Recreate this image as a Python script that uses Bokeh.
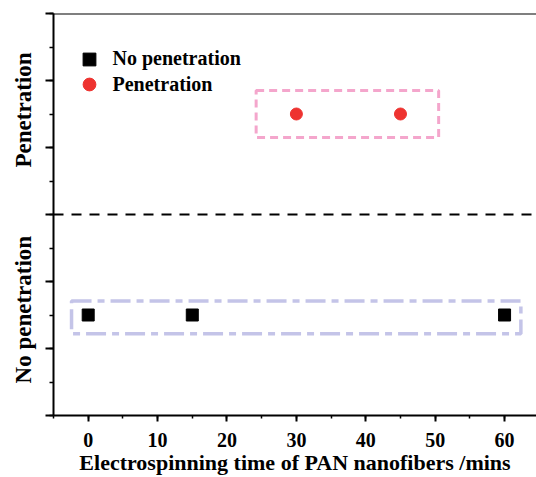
import math
from bokeh.plotting import figure
from bokeh.models import (LinearAxis, FixedTicker, SingleIntervalTicker, Span,
                          Legend, LegendItem, Range1d)
from bokeh.embed import file_html
from bokeh.resources import INLINE

# ---- data ----
no_pen_x = [0, 15, 60]
no_pen_y = [1.5, 1.5, 1.5]
pen_x = [30, 45]
pen_y = [4.5, 4.5]

# highlight boxes (data units)
pen_box_left, pen_box_right, pen_box_bottom, pen_box_top = [24.2], [50.5], [4.15], [4.85]
nop_box_left, nop_box_right, nop_box_bottom, nop_box_top = [-2.4], [62.35], [1.22], [1.71]

divider_y = 3
y_top = 6
y_group_ticks = [1.58, 4.56]
y_group_labels = ["No penetration", "Penetration"]
x_title = "Electrospinning time of PAN nanofibers /mins"

FONT = "Liberation Serif"

p = figure(width=536, height=477, x_range=Range1d(-5, 64.6), y_range=Range1d(0, y_top),
           output_backend="svg", toolbar_location=None,
           min_border_left=53, min_border_right=0, min_border_top=13, min_border_bottom=0)
p.outline_line_color = None
p.grid.visible = False
p.background_fill_color = "white"

# x axis
xa = p.xaxis[0]
xa.ticker = SingleIntervalTicker(interval=10, num_minor_ticks=2)
xa.major_tick_out = 6
xa.major_tick_in = 0
xa.minor_tick_out = 3
xa.minor_tick_in = 0
xa.axis_line_width = 2
xa.major_tick_line_width = 2
xa.minor_tick_line_width = 1.5
xa.major_label_text_font = FONT
xa.major_label_text_font_style = "bold"
xa.major_label_text_font_size = "20px"
xa.major_label_text_color = "black"
xa.major_label_standoff = 11
xa.axis_label = x_title
xa.axis_label_text_font = FONT
xa.axis_label_text_font_style = "bold"
xa.axis_label_text_font_size = "22px"
xa.axis_label_text_color = "black"
xa.axis_label_standoff = 0

# main y axis (ticks only)
ya = p.yaxis[0]
ya.ticker = SingleIntervalTicker(interval=1, num_minor_ticks=2)
ya.major_tick_out = 8
ya.major_tick_in = 0
ya.minor_tick_out = 4
ya.minor_tick_in = 0
ya.axis_line_width = 2
ya.major_tick_line_width = 2
ya.minor_tick_line_width = 1.5
ya.major_label_text_font_size = "0px"
ya.major_label_standoff = 0

# group label axis
ga = LinearAxis(ticker=FixedTicker(ticks=y_group_ticks, minor_ticks=[]),
                major_label_overrides={t: s for t, s in zip(y_group_ticks, y_group_labels)},
                major_label_orientation="parallel",
                axis_line_color=None, major_tick_line_color=None, minor_tick_line_color=None,
                major_tick_out=0, major_tick_in=0, minor_tick_out=0, minor_tick_in=0,
                major_label_text_font=FONT, major_label_text_font_style="bold",
                major_label_text_font_size="23px", major_label_text_color="black",
                major_label_standoff=9)
p.add_layout(ga, "left")

# top border
p.add_layout(Span(location=y_top, dimension="width", line_color="black", line_width=2))

# divider
p.add_layout(Span(location=divider_y, dimension="width", line_color="black",
                  line_width=2, line_dash="10 8"))

# boxes
p.quad(left=pen_box_left, right=pen_box_right, bottom=pen_box_bottom, top=pen_box_top,
       fill_color=None, line_color="#f4a6cc", line_width=3, line_dash="8 5")
p.quad(left=nop_box_left, right=nop_box_right, bottom=nop_box_bottom, top=nop_box_top,
       fill_color=None, line_color="#c4c4e8", line_width=3.5, line_dash="20 6 7 6")

r_sq = p.scatter(no_pen_x, no_pen_y, marker="square", size=12, color="black")
r_ci = p.scatter(pen_x, pen_y, marker="circle", size=12, color="#ee3330")

for label, r, loc in [("No penetration", r_sq, (19.5, 340.5)), ("Penetration", r_ci, (19.5, 315))]:
    lg = Legend(items=[LegendItem(label=label, renderers=[r])], location=loc,
                glyph_width=32, glyph_height=32, label_standoff=8, padding=0, spacing=0,
                margin=0, border_line_color=None, background_fill_alpha=0,
                label_text_font=FONT, label_text_font_style="bold",
                label_text_font_size="20px", label_text_color="black")
    p.add_layout(lg)

open("out.html", "w").write(file_html(p, INLINE))
